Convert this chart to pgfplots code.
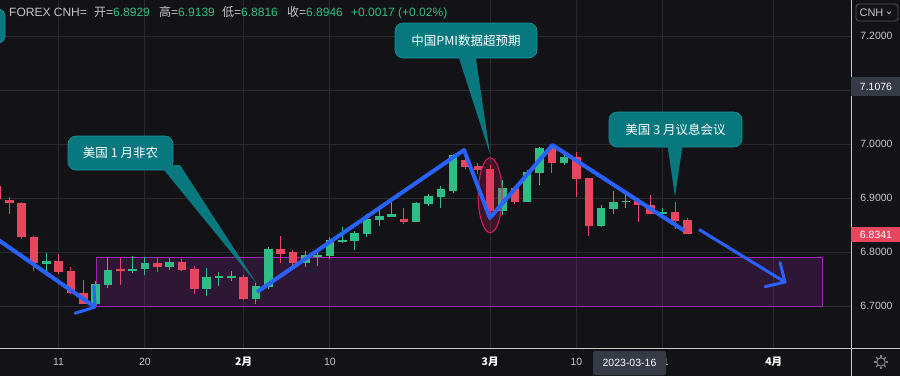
\documentclass[border=0pt]{standalone}
\usepackage{pgfplots}
\pgfplotsset{compat=1.18}
\usepackage{pgfplotstable}
\usepackage{fontspec}
\setmainfont{Liberation Sans}
\newfontfamily\cjk{Noto Sans CJK SC}

\definecolor{bg}{HTML}{131317}
\definecolor{gridc}{HTML}{2A2A2F}
\definecolor{up}{HTML}{2EBD85}
\definecolor{down}{HTML}{E8455F}
\definecolor{trend}{HTML}{2962FF}
\definecolor{callout}{HTML}{08787F}
\definecolor{calloutb}{HTML}{1A909A}
\definecolor{zone}{HTML}{9C27B0}
\definecolor{axc}{HTML}{C8C8C8}
\definecolor{lbl}{HTML}{C4C4C4}
\definecolor{tagbg}{HTML}{363A45}
\definecolor{ell}{HTML}{D81B60}

% index 0 = 2023-01-05 ... 50 = 2023-03-16 (trading days)
\pgfplotstableread{
i o h l c
-1 6.9222 6.9278 6.8926 6.8981
0 6.8963 6.9024 6.8698 6.8902
1 6.8913 6.8920 6.8235 6.8283
2 6.8272 6.8296 6.7654 6.7791
4 6.7833 6.7963 6.7593 6.7635
5 6.7648 6.7722 6.7222 6.7235
6 6.7235 6.7481 6.7035 6.7043
9 6.7685 6.7894 6.7389 6.7654
12 6.7796 6.7894 6.7635 6.7728
14 6.7815 6.7870 6.7648 6.7667
15 6.7685 6.7735 6.7222 6.7320
19 6.7537 6.7569 6.7102 6.7130
22 6.8056 6.8296 6.7791 6.7969
23 6.8000 6.8046 6.7741 6.7802
32 6.8611 6.8815 6.8519 6.8561
37 6.9704 6.9876 6.9543 6.9580
38 6.9593 6.9654 6.9450 6.9519
39 6.9537 6.9617 6.8640 6.8765
41 6.9185 6.9190 6.8889 6.8926
44 6.9926 6.9981 6.9469 6.9654
46 6.9759 6.9852 6.9019 6.9357
47 6.9370 6.9375 6.8296 6.8487
51 6.8944 6.8994 6.8561 6.8876
52 6.8865 6.9056 6.8705 6.8709
54 6.8741 6.8926 6.8431 6.8580
55 6.8593 6.8630 6.8335 6.8341
}\downc

\pgfplotstableread{
i o h l c
3 6.7783 6.7981 6.7556 6.7833
7 6.7043 6.7457 6.7031 6.7407
8 6.7389 6.7894 6.7339 6.7667
10 6.7654 6.7926 6.7617 6.7685
11 6.7680 6.7902 6.7580 6.7796
13 6.7728 6.7894 6.7672 6.7815
16 6.7320 6.7704 6.7185 6.7537
17 6.7537 6.7635 6.7370 6.7556
18 6.7537 6.7642 6.7469 6.7556
20 6.7130 6.7432 6.7037 6.7370
21 6.7358 6.8093 6.7320 6.8056
24 6.7802 6.8013 6.7728 6.7939
25 6.7926 6.8037 6.7746 6.7939
26 6.7926 6.8272 6.7876 6.8222
27 6.8191 6.8463 6.8172 6.8222
28 6.8209 6.8389 6.8037 6.8352
29 6.8339 6.8704 6.8278 6.8611
30 6.8598 6.8796 6.8481 6.8667
31 6.8654 6.8976 6.8650 6.8704
33 6.8561 6.8931 6.8556 6.8907
34 6.8894 6.9074 6.8857 6.9037
35 6.9024 6.9222 6.8820 6.9167
36 6.9130 6.9815 6.9098 6.9796
40 6.8765 6.9333 6.8685 6.9185
42 6.8926 6.9519 6.8920 6.9481
43 6.9469 6.9950 6.9241 6.9926
45 6.9654 6.9852 6.9617 6.9759
48 6.8487 6.8865 6.8469 6.8815
49 6.8796 6.9130 6.8709 6.8929
50 6.8929 6.9139 6.8816 6.8946
53 6.8722 6.8820 6.8643 6.8741
}\upc

\pgfplotsset{
  candle/.style 2 args={draw=none, mark=none, forget plot,
    error bars/.cd, y dir=both, y explicit, error mark=none,
    error bar style={draw=#1, line width=#2}},
}

\begin{document}
\begin{tikzpicture}[x=1pt,y=1pt]
\useasboundingbox (0,0) rectangle (900,-376);
\fill[bg] (0,0) rectangle (900,-376);
\begin{axis}[
  at={(0,0)}, anchor=north west,
  scale only axis, width=851pt, height=348pt,
  xmin=-0.754, xmax=68.264, ymin=6.62222, ymax=7.26667,
  axis line style={draw=none},
  grid=major, major grid style={gridc, line width=1pt},
  tick style={draw=none},
  xtick={4,11,19,26,39,46,53,62},
  xticklabels={11,20,{\cjk\bfseries\color{white}2月},10,{\cjk\bfseries\color{white}3月},10,21,{\cjk\bfseries\color{white}4月}},
  ytick={6.7,6.8,6.9,7.0,7.1,7.2},
  yticklabels={6.7000,6.8000,6.9000,7.0000,{},7.2000},
  yticklabel pos=right,
  y tick label style={anchor=center, xshift=25.5pt, text=lbl, font=\fontsize{10.5}{12}\selectfont},
  x tick label style={anchor=center, yshift=-14pt, text=lbl, font=\fontsize{10.5}{12}\selectfont},
]
% consolidation zone
\addplot[draw=zone, line width=1pt, fill=zone, fill opacity=0.2, forget plot]
  coordinates {(7.056,6.7) (65.99,6.7) (65.99,6.7902) (7.056,6.7902) (7.056,6.7)};
% wicks
\addplot[candle={down}{1pt}]
  table[x=i, y expr={(\thisrow{h}+\thisrow{l})/2}, y error expr={(\thisrow{h}-\thisrow{l})/2}] {\downc};
\addplot[candle={up}{1pt}]
  table[x=i, y expr={(\thisrow{h}+\thisrow{l})/2}, y error expr={(\thisrow{h}-\thisrow{l})/2}] {\upc};
% bodies
\addplot[candle={down}{8.6pt}]
  table[x=i, y expr={(\thisrow{o}+\thisrow{c})/2}, y error expr={max(abs(\thisrow{c}-\thisrow{o})/2,0.0012)}] {\downc};
\addplot[candle={up}{8.6pt}]
  table[x=i, y expr={(\thisrow{o}+\thisrow{c})/2}, y error expr={max(abs(\thisrow{c}-\thisrow{o})/2,0.0012)}] {\upc};
% highlight ellipse
\draw[ell, line width=1pt, fill=ell, fill opacity=0.22] (axis cs:39,6.9052) ellipse [x radius=0.973, y radius=0.0694];
% trend lines
\addplot[trend, line width=4pt, line join=round, forget plot] coordinates {(-1.5,6.8322) (6.95,6.6981)};
\addplot[trend, line width=3pt, line join=round, line cap=round, forget plot] coordinates {(5.33,6.6865) (6.95,6.6981) (6.87,6.7370)};
\addplot[trend, line width=4pt, line join=round, forget plot] coordinates {(20.09,6.7259) (36.88,6.9889) (38.98,6.8630) (44.05,6.9981) (54.72,6.8398)};
\addplot[trend, line width=3pt, line join=round, forget plot] coordinates {(55.94,6.8417) (62.91,6.7444)};
\addplot[trend, line width=3pt, line join=round, line cap=round, forget plot] coordinates {(61.29,6.7357) (62.91,6.7444) (62.51,6.7802)};
\end{axis}
% axis separators
\draw[axc, line width=1pt] (851,0) -- (851,-376);
\draw[axc, line width=1pt] (0,-348.5) -- (900,-348.5);
% callouts
\filldraw[fill=callout, draw=calloutb, line width=0.6pt, rounded corners=7pt] (-40,-9) rectangle (5,-43);
\filldraw[fill=callout, draw=calloutb, line width=0.6pt, rounded corners=8pt] (68,-136) rectangle (173,-170);
\fill[callout] (160,-165) -- (180,-165) -- (257,-284) -- cycle;
\node[text=white, font=\cjk\fontsize{12.5}{14}\selectfont] at (120.5,-153) {美国 1 月非农};
\filldraw[fill=callout, draw=calloutb, line width=0.6pt, rounded corners=8pt] (395,-23) rectangle (537,-58);
\fill[callout] (457,-52) -- (475,-52) -- (490,-154) -- cycle;
\node[text=white, font=\cjk\fontsize{12.5}{14}\selectfont] at (466,-40.5) {中国PMI数据超预期};
\filldraw[fill=callout, draw=calloutb, line width=0.6pt, rounded corners=8pt] (609,-112) rectangle (742,-147);
\fill[callout] (667,-142) -- (683,-142) -- (675,-197) -- cycle;
\node[text=white, font=\cjk\fontsize{12.5}{14}\selectfont] at (675.5,-129.5) {美国 3 月议息会议};
% header
\begin{scope}[every node/.style={anchor=base west, inner sep=0pt, font=\fontsize{12}{14}\selectfont}]
\node[text=lbl] at (9,-16.5) {FOREX CNH=};
\node[text=lbl] at (94,-16.5) {{\cjk 开}=\textcolor{up}{6.8929}};
\node[text=lbl] at (159,-16.5) {{\cjk 高}=\textcolor{up}{6.9139}};
\node[text=lbl] at (222,-16.5) {{\cjk 低}=\textcolor{up}{6.8816}};
\node[text=lbl] at (287,-16.5) {{\cjk 收}=\textcolor{up}{6.8946}};
\node[text=up] at (351,-16.5) {+0.0017 (+0.02\%)};
\end{scope}
% price tags
\fill[tagbg] (851,-77) rectangle (900,-96);
\node[text=white, font=\fontsize{10.5}{12}\selectfont] at (876,-86.5) {7.1076};
\fill[down] (851,-227) rectangle (900,-242);
\node[text=white, font=\fontsize{10.5}{12}\selectfont] at (876,-234.5) {6.8341};
% symbol button
\draw[draw=gray!60!bg, line width=0.8pt, rounded corners=3pt] (856,-4) rectangle (898,-21);
\node[text=lbl, font=\fontsize{11}{12}\selectfont] at (871.5,-12.5) {CNH};
\draw[lbl, line width=0.7pt] (887,-11.5) -- (889,-13.8) -- (891,-11.5);
% date tag
\fill[tagbg, rounded corners=2pt] (593,-351) rectangle (666,-375);
\node[text=white, font=\fontsize{10.5}{12}\selectfont] at (629.5,-363) {2023-03-16};
% settings gear
\draw[gray, line width=1pt] (881,-362) circle (4.2);
\foreach \a in {0,45,...,315} \draw[gray, line width=1.2pt] (881,-362) ++(\a:4.5) -- ++(\a:2.3);
\end{tikzpicture}
\end{document}
